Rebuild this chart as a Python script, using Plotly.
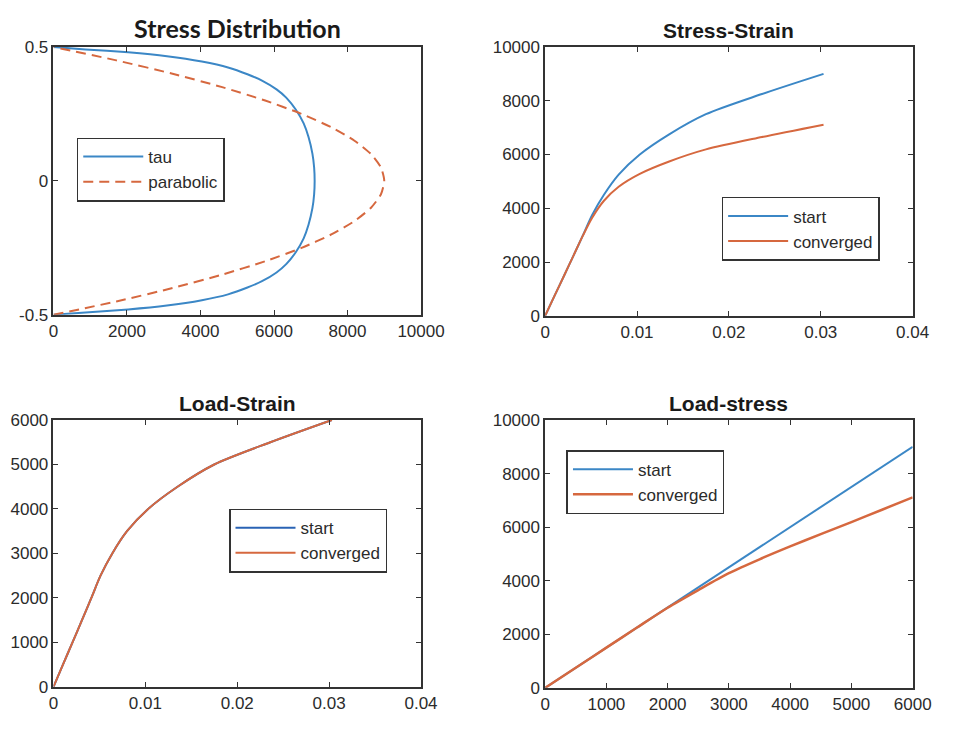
import plotly.graph_objects as go

# ---------------- data ----------------
# Stress distribution (tau profile vs. depth)
tau_y = [-0.5, -0.4909, -0.48, -0.4655, -0.4455, -0.4236, -0.3982, -0.3745, -0.3418, -0.3109,
         -0.2655, -0.2145, -0.1636, -0.1018, -0.05, 0.0, 0.05, 0.1018, 0.1636, 0.2145, 0.2655,
         0.3109, 0.3418, 0.3745, 0.3982, 0.4236, 0.4455, 0.4655, 0.48, 0.4909, 0.5]
tau_vals = [0, 871, 2032, 3087, 4037, 4749, 5277, 5673, 6069, 6332,
            6596, 6807, 6939, 7045, 7092, 7106, 7092, 7045, 6939, 6807, 6596,
            6332, 6069, 5673, 5277, 4749, 4037, 3087, 2032, 871, 0]
para_y = [-0.5, -0.45, -0.4, -0.35, -0.3, -0.25, -0.2, -0.15, -0.1, -0.05, 0.0,
          0.05, 0.1, 0.15, 0.2, 0.25, 0.3, 0.35, 0.4, 0.45, 0.5]
para_vals = [0, 1710, 3240, 4590, 5760, 6750, 7560, 8190, 8640, 8910, 9000,
             8910, 8640, 8190, 7560, 6750, 5760, 4590, 3240, 1710, 0]

# Load steps
load = [0, 500, 1000, 1500, 2000, 2500, 3000, 3500, 4000, 4500, 5000, 5500, 6000]
strain = [0, 0.00103, 0.00207, 0.00310, 0.00412, 0.00512, 0.00640, 0.00800,
          0.01030, 0.01350, 0.01750, 0.02360, 0.03030]
stress_start = [0, 750, 1500, 2250, 3000, 3750, 4500, 5250, 6000, 6750, 7500, 8250, 9000]
stress_conv = [0, 750, 1500, 2250, 2990, 3650, 4280, 4800, 5280, 5740, 6190, 6650, 7110]

# Tick labels
tl_xticks = [0, 2000, 4000, 6000, 8000, 10000]
tl_xtext = ["0", "2000", "4000", "6000", "8000", "10000"]
tl_yticks = [-0.5, 0, 0.5]
tl_ytext = ["-0.5", "0", "0.5"]
strain_ticks = [0, 0.01, 0.02, 0.03, 0.04]
strain_text = ["0", "0.01", "0.02", "0.03", "0.04"]
stress_ticks = [0, 2000, 4000, 6000, 8000, 10000]
stress_text = ["0", "2000", "4000", "6000", "8000", "10000"]
load_ticks = [0, 1000, 2000, 3000, 4000, 5000, 6000]
load_text = ["0", "1000", "2000", "3000", "4000", "5000", "6000"]

# ---------------- style ----------------
BLUE = "#3b87c6"
ORANGE = "#d6683f"
AX = "#333333"
FONT = "Liberation Sans, Arial, sans-serif"
W, H = 958, 729

fig = go.Figure()

fig.add_trace(go.Scatter(x=tau_vals, y=tau_y, mode="lines", name="tau",
                         line=dict(color=BLUE, width=2, shape="spline", smoothing=0.6),
                         xaxis="x", yaxis="y", legend="legend"))
fig.add_trace(go.Scatter(x=para_vals, y=para_y, mode="lines", name="parabolic",
                         line=dict(color=ORANGE, width=2, dash="10px,6px", shape="spline", smoothing=0.6),
                         xaxis="x", yaxis="y", legend="legend"))

fig.add_trace(go.Scatter(x=strain, y=stress_start, mode="lines", name="start",
                         line=dict(color=BLUE, width=2, shape="spline", smoothing=0.8),
                         xaxis="x2", yaxis="y2", legend="legend2"))
fig.add_trace(go.Scatter(x=strain, y=stress_conv, mode="lines", name="converged",
                         line=dict(color=ORANGE, width=2, shape="spline", smoothing=0.8),
                         xaxis="x2", yaxis="y2", legend="legend2"))

fig.add_trace(go.Scatter(x=strain, y=load, mode="lines", name="start",
                         line=dict(color="#2a63b5", width=2, shape="spline", smoothing=0.8),
                         xaxis="x3", yaxis="y3", legend="legend3"))
fig.add_trace(go.Scatter(x=strain, y=load, mode="lines", name="converged",
                         line=dict(color=ORANGE, width=2, shape="spline", smoothing=0.8),
                         xaxis="x3", yaxis="y3", legend="legend3"))

fig.add_trace(go.Scatter(x=load, y=stress_start, mode="lines", name="start",
                         line=dict(color=BLUE, width=2),
                         xaxis="x4", yaxis="y4", legend="legend4"))
fig.add_trace(go.Scatter(x=load, y=stress_conv, mode="lines", name="converged",
                         line=dict(color=ORANGE, width=2.5, shape="spline", smoothing=0.8),
                         xaxis="x4", yaxis="y4", legend="legend4"))


def ax(domain, rng, tv, tt, anchor):
    return dict(domain=domain, range=rng, tickvals=tv, ticktext=tt, anchor=anchor,
                showline=True, linecolor=AX, linewidth=1.5, mirror="ticks",
                ticks="inside", ticklen=5, tickwidth=1.2, tickcolor=AX,
                showgrid=False, zeroline=False, fixedrange=True,
                tickfont=dict(family=FONT, size=17, color="#2b2b2b"))


L1 = [50 / W, 429 / W]
L2 = [557 / W, 936 / W]
Y_top = [1 - 314 / H, 1 - 39 / H]
Y_top2 = [1 - 315 / H, 1 - 39 / H]
Y_bot = [1 - 696 / H, 1 - 422 / H]
Y_bot2 = [1 - 697 / H, 1 - 422 / H]

leg_common = dict(bgcolor="white", bordercolor="#333333", borderwidth=1.5,
                  font=dict(family=FONT, size=17, color="#2b2b2b"),
                  xanchor="left", yanchor="top", itemwidth=60, tracegroupgap=0)

fig.update_layout(
    width=W, height=H, margin=dict(l=0, r=0, t=0, b=0),
    paper_bgcolor="white", plot_bgcolor="white",
    xaxis=ax(L1, [0, 10000], tl_xticks, tl_xtext, "y"),
    yaxis=ax(Y_top, [-0.5, 0.5], tl_yticks, tl_ytext, "x"),
    xaxis2=ax(L2, [0, 0.04], strain_ticks, strain_text, "y2"),
    yaxis2=ax(Y_top2, [0, 10000], stress_ticks, stress_text, "x2"),
    xaxis3=ax(L1, [0, 0.04], strain_ticks, strain_text, "y3"),
    yaxis3=ax(Y_bot, [0, 6000], load_ticks, load_text, "x3"),
    xaxis4=ax(L2, [0, 6000], load_ticks, load_text, "y4"),
    yaxis4=ax(Y_bot2, [0, 10000], stress_ticks, stress_text, "x4"),
    legend=dict(x=74 / W, y=1 - 132 / H, **leg_common),
    legend2=dict(x=739 / W, y=1 - 193 / H, **leg_common),
    legend3=dict(x=231 / W, y=1 - 513 / H, **leg_common),
    legend4=dict(x=579 / W, y=1 - 453 / H, **leg_common),
    showlegend=True,
)

titles = [
    ("Stress Distribution", (L1[0] + L1[1]) / 2, 1 - 19 / H, "Lato, sans-serif", 25),
    ("Stress-Strain", (L2[0] + L2[1]) / 2, 1 - 22 / H, FONT, 21),
    ("Load-Strain", (L1[0] + L1[1]) / 2, 1 - 405 / H, FONT, 21),
    ("Load-stress", (L2[0] + L2[1]) / 2, 1 - 405 / H, FONT, 21),
]
for text, x, y, fam, sz in titles:
    fig.add_annotation(text="<b>%s</b>" % text, x=x, y=y, xref="paper", yref="paper",
                       xanchor="center", yanchor="middle", showarrow=False,
                       font=dict(family=fam, size=sz, color="#1a1a1a"))

fig.write_html("out.html")
